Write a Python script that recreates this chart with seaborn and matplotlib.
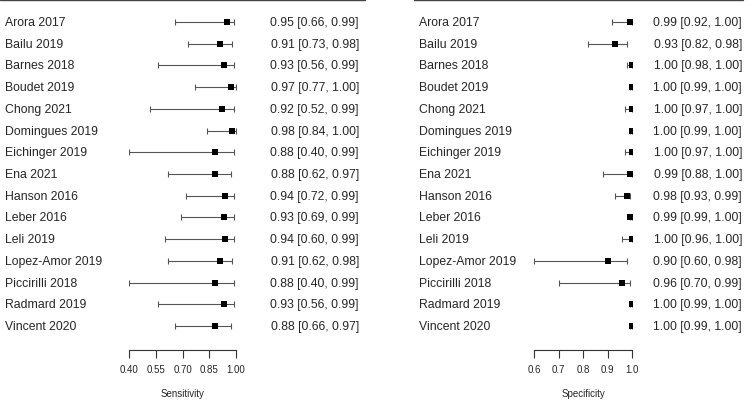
import numpy as np
import pandas as pd
import matplotlib
matplotlib.use("Agg")
import matplotlib.pyplot as plt
from matplotlib.lines import Line2D
import seaborn as sns

# Dados
estudos = ["Arora 2017", "Bailu 2019", "Barnes 2018", "Boudet 2019", "Chong 2021",
           "Domingues 2019", "Eichinger 2019", "Ena 2021", "Hanson 2016", "Leber 2016",
           "Leli 2019", "Lopez-Amor 2019", "Piccirilli 2018", "Radmard 2019", "Vincent 2020"]

sens = [0.95, 0.91, 0.93, 0.97, 0.92, 0.98, 0.88, 0.88, 0.94, 0.93, 0.94, 0.91, 0.88, 0.93, 0.88]
sens_lo = [0.66, 0.73, 0.56, 0.77, 0.52, 0.84, 0.40, 0.62, 0.72, 0.69, 0.60, 0.62, 0.40, 0.56, 0.66]
sens_hi = [0.99, 0.98, 0.99, 1.00, 0.99, 1.00, 0.99, 0.97, 0.99, 0.99, 0.99, 0.98, 0.99, 0.99, 0.97]

spec = [0.99, 0.93, 1.00, 1.00, 1.00, 1.00, 1.00, 0.99, 0.98, 0.99, 1.00, 0.90, 0.96, 1.00, 1.00]
spec_lo = [0.92, 0.82, 0.98, 0.99, 0.97, 0.99, 0.97, 0.88, 0.93, 0.99, 0.96, 0.60, 0.70, 0.99, 0.99]
spec_hi = [1.00, 0.98, 1.00, 1.00, 1.00, 1.00, 1.00, 1.00, 0.99, 1.00, 1.00, 0.98, 0.99, 1.00, 1.00]

sens_ticks = [0.40, 0.55, 0.70, 0.85, 1.00]
spec_ticks = [0.6, 0.7, 0.8, 0.9, 1.0]

sns.set_style("white")
plt.rcParams['font.family'] = ['Liberation Sans', 'DejaVu Sans']

W, H = 750, 402
fig = plt.figure(figsize=(7.5, 4.02), dpi=100)


def px(x):
    return x / W


def py(y):
    return 1 - y / H


def painel(est, lo, hi, ticks, fmt, rotulo, ax_x0, ax_x1, nome_x, texto_x, linha_x0, linha_x1):
    ax = fig.add_axes([px(ax_x0), py(351), px(ax_x1 - ax_x0), (351 - 1) / H])
    df = pd.DataFrame({"estudo": estudos, "est": est, "lo": lo, "hi": hi,
                       "pos": np.arange(len(estudos))})
    ax.errorbar(df["est"], df["pos"],
                xerr=[df["est"] - df["lo"], df["hi"] - df["est"]],
                fmt="none", ecolor="#555555", elinewidth=0.8, capsize=2.2, capthick=0.8)
    sns.scatterplot(data=df, x="est", y="pos", marker="s", s=22, color="black",
                    edgecolor="black", linewidth=0, ax=ax, zorder=3)
    ax.set_xlim(ticks[0], ticks[-1])
    ax.set_ylim(15.1, -1.013)
    ax.set_xticks(ticks)
    ax.set_xticklabels([fmt.format(t) for t in ticks], fontsize=7)
    ax.set_yticks([])
    ax.set_xlabel(rotulo, fontsize=7)
    ax.xaxis.set_label_coords(0.5, -0.108)
    ax.set_ylabel("")
    for s in ["top", "right", "left"]:
        ax.spines[s].set_visible(False)
    ax.spines["bottom"].set_linewidth(0.8)
    ax.spines["bottom"].set_color("#333333")
    ax.tick_params(axis="x", bottom=True, direction="out", length=5.8, width=0.8,
                   color="#333333", pad=4.5)
    ax.patch.set_alpha(0)
    for i, nome in enumerate(estudos):
        ytxt = py(23 + 21.72 * i)
        fig.text(px(nome_x), ytxt, nome, ha="left", va="center", fontsize=8.8)
        fig.text(px(texto_x), ytxt, f"{est[i]:.2f} [{lo[i]:.2f}, {hi[i]:.2f}]",
                 ha="right", va="center", fontsize=8.8)
    fig.add_artist(Line2D([px(linha_x0), px(linha_x1)], [py(1), py(1)],
                          color="#444444", linewidth=1.0))
    return ax


painel(sens, sens_lo, sens_hi, sens_ticks, "{:.2f}", "Sensitivity", 129, 236, 5, 359, 0, 365)
painel(spec, spec_lo, spec_hi, spec_ticks, "{:.1f}", "Specificity", 534, 632, 419, 742, 414, 743)

fig.savefig("out.png", dpi=100)
